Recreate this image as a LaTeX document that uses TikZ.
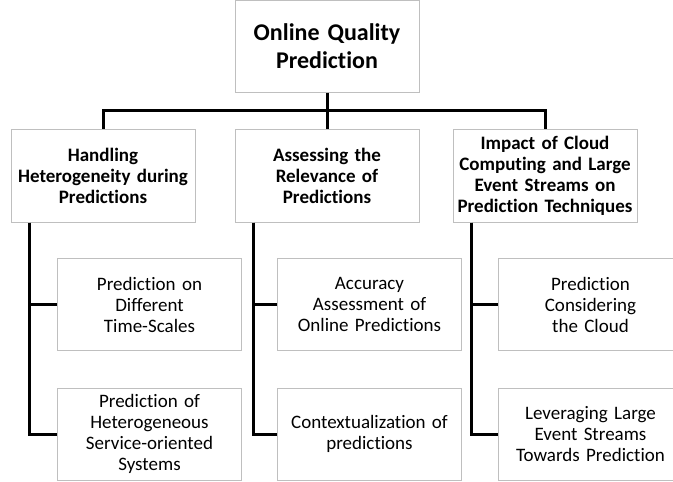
\documentclass[tikz,border=0pt]{standalone}
\usepackage{fontspec}
\setmainfont[Ligatures=NoCommon, Contextuals=NoAlternate]{Carlito}
\usepackage{xcolor}

\definecolor{boxgray}{RGB}{191,191,191}

\begin{document}
\begin{tikzpicture}[x=1pt, y=-1pt,
  box/.style={draw=boxgray, line width=1pt, rectangle, align=center,
    minimum width=184pt, text width=178pt, inner sep=0pt},
  topic/.style={box, minimum height=93pt, font=\fontsize{19}{21}\selectfont\bfseries},
  item/.style={box, minimum height=92pt, font=\fontsize{19}{21}\selectfont},
  link/.style={line width=3pt}]
\useasboundingbox (0,0) rectangle (673,482);
\clip (0,0) rectangle (673,482);

\node[box, minimum height=92pt, font=\fontsize{24}{28.5}\selectfont\bfseries] (Q) at (327,46) {Online Quality\\Prediction};

\node[topic] (H) at (103,175.5) {Handling\\Heterogeneity during\\Predictions};
\node[topic] (R) at (327,175.5) {Assessing the\\Relevance of\\Predictions};
\node[topic] (C) at (545,175.5) {Impact of Cloud\\Computing and Large\\Event Streams on\\Prediction Techniques};

\node[item] (H1) at (149.5,304.5) {Prediction on\\Different\\Time-Scales};
\node[item] (H2) at (149.5,434) {Prediction of\\Heterogeneous\\Service-oriented\\Systems};
\node[item] (R1) at (369.5,304.5) {Accuracy\\Assessment of\\Online Predictions};
\node[item] (R2) at (369.5,434) {Contextualization of\\predictions};
\node[item] (C1) at (590.5,304.5) {Prediction\\Considering\\the Cloud};
\node[item] (C2) at (590.5,434) {Leveraging Large\\Event Streams\\Towards Prediction};

% tree connectors
\coordinate (J) at (327,110);
\draw[link] (Q) -- (J);
\draw[link] (J) -| (H);
\draw[link] (J) -- (R);
\draw[link] (J) -| (C);

\draw[link] ([xshift=18.5pt]H.south west) |- (H1);
\draw[link] ([xshift=18.5pt]H.south west) |- (H2);
\draw[link] ([xshift=18.5pt]R.south west) |- (R1);
\draw[link] ([xshift=18.5pt]R.south west) |- (R2);
\draw[link] ([xshift=18.5pt]C.south west) |- (C1);
\draw[link] ([xshift=18.5pt]C.south west) |- (C2);
\end{tikzpicture}
\end{document}
